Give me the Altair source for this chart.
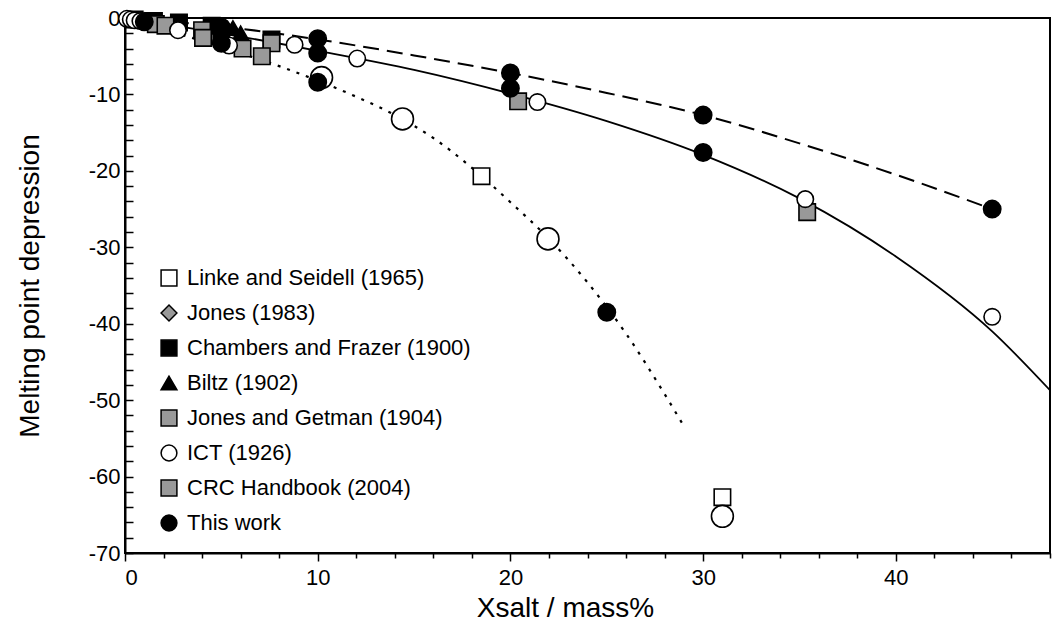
import altair as alt
import pandas as pd

FONT = "Liberation Sans"

series_order = ["Linke and Seidell (1965)", "Jones (1983)", "Chambers and Frazer (1900)",
                "Biltz (1902)", "Jones and Getman (1904)", "ICT (1926)",
                "CRC Handbook (2004)", "This work"]
series_shapes = ["square", "diamond", "square", "triangle-up", "square", "circle", "square", "circle"]
series_fills = ["white", "#999999", "black", "black", "#999999", "white", "#999999", "black"]
series_strokes = ["black"] * 8

# data points (x = mass%, y = melting point depression)
linke_x = [18.5, 31.0]
linke_y = [-20.7, -62.7]
jones_x = [1.0]
jones_y = [-0.4]
chambers_x = [0.5, 1.5, 2.8, 4.5, 5.0, 7.6]
chambers_y = [-0.2, -0.4, -0.6, -1.0, -2.0, -2.8]
biltz_x = [5.6, 6.0]
biltz_y = [-1.3, -2.0]
getman_x = [1.6, 4.0, 7.6]
getman_y = [-0.8, -1.6, -3.3]
crc_x = [2.1, 4.05, 6.1, 7.1, 20.4, 35.4]
crc_y = [-1.0, -2.6, -4.0, -5.0, -10.9, -25.4]
ict_x = [0.1, 0.3, 0.5, 0.8, 2.75, 5.4, 8.8, 12.05, 21.4, 35.3, 45.0]
ict_y = [-0.1, -0.2, -0.3, -0.4, -1.6, -3.6, -3.5, -5.3, -11.0, -23.7, -39.1]
ict_big_x = [10.2, 14.4, 21.95, 31.0]
ict_big_y = [-7.8, -13.2, -28.9, -65.2]
this_x = [1.0, 5.0, 5.0, 10.0, 10.0, 10.0, 20.0, 20.0, 30.0, 30.0, 45.0, 25.0]
this_y = [-0.5, -1.2, -3.3, -2.7, -4.6, -8.4, -7.2, -9.2, -12.7, -17.6, -25.0, -38.5]

# fitted curves
solid_x = [0, 5, 10, 15, 20, 25, 30, 35, 40, 45, 48]
solid_y = [0, -2.0, -4.3, -6.8, -9.9, -13.5, -17.9, -23.6, -31.2, -41.0, -48.7]
dashed_x = [0, 5, 10, 15, 20, 25, 30, 35, 40, 45]
dashed_y = [0, -1.1, -2.8, -4.9, -7.2, -9.8, -12.7, -16.4, -20.5, -25.0]
dotted_x = [0, 2, 4, 6, 8, 10, 12, 14, 16, 18, 20, 22, 24, 26, 28, 29]
dotted_y = [0, -1.5, -3.0, -4.6, -6.3, -8.2, -10.3, -12.7, -15.7, -19.6, -24.1, -28.9, -34.6, -41.3, -49.2, -53.4]

x_ticks = list(range(0, 49, 2))
y_ticks = list(range(-70, 1, 2))
y_labels = list(range(-70, 1, 10))


def frame(xs, ys, name=None):
    d = pd.DataFrame({"x": xs, "y": ys})
    if name is not None:
        d["series"] = name
    return d


pts_main = pd.concat([
    frame(linke_x, linke_y, series_order[0]),
    frame(jones_x, jones_y, series_order[1]),
    frame(chambers_x, chambers_y, series_order[2]),
    frame(biltz_x, biltz_y, series_order[3]),
    frame(getman_x, getman_y, series_order[4]),
    frame(crc_x, crc_y, series_order[6]),
    frame(ict_x, ict_y, series_order[5]),
], ignore_index=True)
pts_big = frame(ict_big_x, ict_big_y)
pts_this = frame(this_x, this_y, series_order[7])

xscale = alt.Scale(domain=[0, 48], nice=False, zero=False)
yscale = alt.Scale(domain=[-70, 0], nice=False, zero=False)

X = alt.X("x:Q", scale=xscale, axis=alt.Axis(
    values=x_ticks,
    labelExpr="datum.value % 10 === 0 ? ('' + datum.value) : ''",
    tickSize={"condition": {"test": "datum.value % 10 === 0", "value": 8}, "value": 5},
    title="Xsalt / mass%", titleFontSize=28, titlePadding=6, titleX=440,
    labelFontSize=22, labelPadding=6, grid=False, domainWidth=2,
    tickWidth=1.5, tickColor="black", domainColor="black",
))
Y_left = alt.Y("y:Q", scale=yscale, axis=alt.Axis(
    values=y_labels, ticks=False, orient="left",
    labelExpr="'' + datum.value",
    title="Melting point depression", titleFontSize=28, titlePadding=44,
    labelFontSize=22, labelPadding=5, grid=False, domainWidth=2, domainColor="black",
))
Y_ticks_in = alt.Y("y:Q", scale=yscale, axis=alt.Axis(
    values=y_ticks, orient="right", offset=-925, labels=False, title="",
    tickSize=8, tickWidth=1.5, tickColor="black", domain=False, grid=False,
))
Y_none = alt.Y("y:Q", scale=yscale, axis=None)

legend_kw = dict(title=None, orient="none", legendX=33, legendY=249,
                 labelFontSize=22, symbolSize=250, rowPadding=13,
                 labelLimit=400, labelOffset=7, padding=0, symbolStrokeWidth=1.5)

shape_enc = alt.Shape("series:N", scale=alt.Scale(domain=series_order, range=series_shapes),
                      legend=alt.Legend(**legend_kw))
fill_enc = alt.Fill("series:N", scale=alt.Scale(domain=series_order, range=series_fills),
                    legend=alt.Legend(**legend_kw))
stroke_enc = alt.Stroke("series:N", scale=alt.Scale(domain=series_order, range=series_strokes),
                        legend=alt.Legend(**legend_kw))

solid = alt.Chart(frame(solid_x, solid_y)).mark_line(
    color="black", strokeWidth=1.8, clip=True, interpolate="monotone"
).encode(x=X, y=Y_ticks_in)
dashed = alt.Chart(frame(dashed_x, dashed_y)).mark_line(
    color="black", strokeWidth=2, strokeDash=[16, 8], clip=True, interpolate="monotone"
).encode(x=X, y=Y_none)
dotted = alt.Chart(frame(dotted_x, dotted_y)).mark_line(
    color="black", strokeWidth=2.2, strokeDash=[3, 7], clip=True, interpolate="monotone"
).encode(x=X, y=Y_none)

main = alt.Chart(pts_main).mark_point(
    filled=True, strokeWidth=1.6, size=270, opacity=1, fillOpacity=1, strokeOpacity=1
).encode(x=X, y=Y_left, shape=shape_enc, fill=fill_enc, stroke=stroke_enc)
big = alt.Chart(pts_big).mark_point(
    shape="circle", filled=True, fill="white", stroke="black", strokeWidth=1.6, size=480, opacity=1
).encode(x=X, y=Y_none)
this = alt.Chart(pts_this).mark_point(
    filled=True, strokeWidth=1.6, size=300, opacity=1, fillOpacity=1, strokeOpacity=1
).encode(x=X, y=Y_none, shape=shape_enc, fill=fill_enc, stroke=stroke_enc)

chart = alt.layer(solid, dashed, dotted, main, big, this).resolve_axis(y="independent").properties(
    width=925, height=535,
    autosize=alt.AutoSizeParams(type="none"),
    padding={"left": 125, "top": 18, "right": 2, "bottom": 88},
).configure(
    font=FONT,
).configure_axis(
    labelFont=FONT, titleFont=FONT, labelColor="black", titleColor="black",
    titleFontWeight="normal",
).configure_legend(
    labelFont=FONT, labelColor="black",
).configure_view(
    stroke="black", strokeWidth=2,
)

chart.save("out.html", embed_options={"renderer": "svg", "actions": False})
